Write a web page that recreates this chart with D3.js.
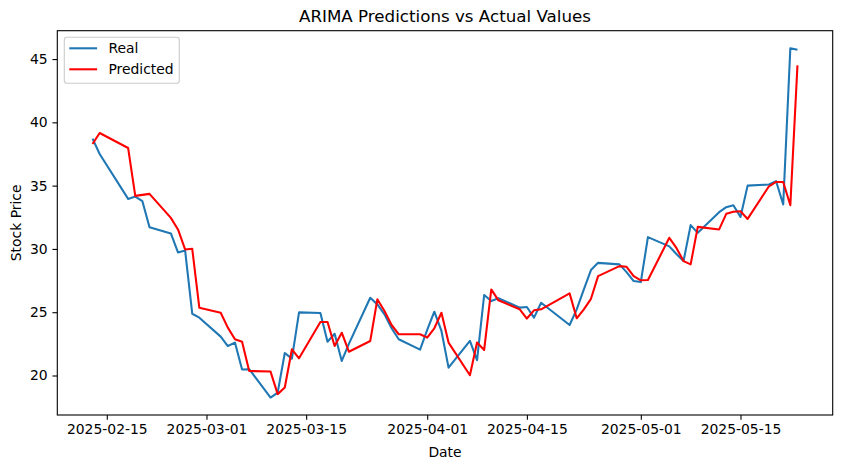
<!DOCTYPE html>
<html>
<head>
<meta charset="utf-8">
<script src="https://cdn.jsdelivr.net/npm/d3@7"></script>
<style>
  html, body { margin: 0; padding: 0; background: #fff; }
  svg { display: block; font-family: "DejaVu Sans", sans-serif; }
</style>
</head>
<body>
<svg id="chart" width="842" height="468"></svg>
<script>
// ---- data ----
const dates = [
  "2025-02-13","2025-02-14","2025-02-18","2025-02-19","2025-02-20","2025-02-21",
  "2025-02-24","2025-02-25","2025-02-26","2025-02-27","2025-02-28",
  "2025-03-03","2025-03-04","2025-03-05","2025-03-06","2025-03-07",
  "2025-03-10","2025-03-11","2025-03-12","2025-03-13","2025-03-14",
  "2025-03-17","2025-03-18","2025-03-19","2025-03-20","2025-03-21",
  "2025-03-24","2025-03-25","2025-03-26","2025-03-27","2025-03-28",
  "2025-03-31","2025-04-01","2025-04-02","2025-04-03","2025-04-04",
  "2025-04-07","2025-04-08","2025-04-09","2025-04-10","2025-04-11",
  "2025-04-14","2025-04-15","2025-04-16","2025-04-17",
  "2025-04-21","2025-04-22","2025-04-23","2025-04-24","2025-04-25",
  "2025-04-28","2025-04-29","2025-04-30","2025-05-01","2025-05-02",
  "2025-05-05","2025-05-06","2025-05-07","2025-05-08","2025-05-09",
  "2025-05-12","2025-05-13","2025-05-14","2025-05-15","2025-05-16",
  "2025-05-19","2025-05-20","2025-05-21","2025-05-22","2025-05-23"
];
const realValues = [
  38.71, 37.50, 33.95, 34.14, 33.77, 31.72,
  31.22, 29.72, 29.88, 24.88, 24.57,
  23.07, 22.33, 22.60, 20.47, 20.50,
  18.26, 18.65, 21.78, 21.33, 24.99,
  24.94, 22.67, 23.30, 21.15, 22.50,
  26.14, 25.62, 24.83, 23.73, 22.86,
  22.04, 23.60, 25.04, 23.52, 20.62,
  22.73, 21.21, 26.36, 25.88, 26.10,
  25.36, 25.41, 24.57, 25.75,
  23.99, 25.23, 26.80, 28.33, 28.90,
  28.78, 28.17, 27.46, 27.38, 30.93,
  30.20, 29.60, 29.04, 31.88, 31.27,
  32.90, 33.30, 33.45, 32.53, 35.00,
  35.09, 35.35, 33.51, 45.86, 45.73
];
const predictedValues = [
  38.29, 39.16, 37.97, 34.19, 34.27, 34.35,
  32.45, 31.54, 29.96, 30.01, 25.35,
  24.96, 23.78, 22.86, 22.67, 20.36,
  20.31, 18.53, 19.05, 22.07, 21.36,
  24.23, 24.23, 22.33, 23.38, 21.88,
  22.73, 26.02, 25.10, 23.99, 23.26,
  23.26, 22.99, 23.73, 24.96, 22.60,
  20.02, 22.60, 22.02, 26.80, 25.94,
  25.23, 24.50, 25.15, 25.23,
  26.49, 24.52, 25.23, 26.06, 27.85,
  28.64, 28.59, 27.85, 27.52, 27.54,
  30.88, 30.08, 29.04, 28.78, 31.74,
  31.54, 32.77, 32.93, 32.98, 32.37,
  34.95, 35.29, 35.29, 33.45, 44.50
];
const xTickLabels = ["2025-02-15","2025-03-01","2025-03-15","2025-04-01","2025-04-15","2025-05-01","2025-05-15"];
const yTickValues = [20, 25, 30, 35, 40, 45];
const seriesNames = ["Real", "Predicted"];
const seriesColors = ["#1f77b4", "#ff0000"];

// ---- layout ----
const W = 842, H = 468;
const plot = { left: 57.3, right: 832.7, top: 30.7, bottom: 415 };
const fs = 13.9;

const parse = d3.utcParse("%Y-%m-%d");
const fmt = d3.utcFormat("%Y-%m-%d");
const t = dates.map(parse);

const svg = d3.select("#chart");

// matplotlib-like 5% margins
const [tMin, tMax] = d3.extent(t);
const tPad = (tMax - tMin) * 0.05;
const x = d3.scaleUtc()
  .domain([new Date(+tMin - tPad), new Date(+tMax + tPad)])
  .range([plot.left, plot.right]);

const allVals = realValues.concat(predictedValues);
const [vMin, vMax] = d3.extent(allVals);
const vPad = (vMax - vMin) * 0.05;
const y = d3.scaleLinear()
  .domain([vMin - vPad, vMax + vPad])
  .range([plot.bottom, plot.top]);

// lines
const series = [realValues, predictedValues];
const line = d3.line()
  .x((d, i) => x(t[i]))
  .y(d => y(d));

const clip = svg.append("clipPath").attr("id", "clip")
  .append("rect")
  .attr("x", plot.left).attr("y", plot.top)
  .attr("width", plot.right - plot.left).attr("height", plot.bottom - plot.top);

const gLines = svg.append("g").attr("clip-path", "url(#clip)");
series.forEach((vals, k) => {
  gLines.append("path")
    .datum(vals)
    .attr("d", line)
    .attr("fill", "none")
    .attr("stroke", seriesColors[k])
    .attr("stroke-width", 2.08)
    .attr("stroke-linejoin", "round")
    .attr("stroke-linecap", "butt");
});

// axes
const xAxis = d3.axisBottom(x)
  .tickValues(xTickLabels.map(parse))
  .tickFormat(fmt)
  .tickSize(4.86)
  .tickPadding(4.0)
  .tickSizeOuter(0);
const gx = svg.append("g")
  .attr("transform", `translate(0,${plot.bottom})`)
  .call(xAxis);
gx.select(".domain").remove();
gx.selectAll(".tick line").attr("stroke", "#000").attr("stroke-width", 1.1);
gx.selectAll(".tick text")
  .attr("fill", "#000")
  .style("font-size", fs + "px")
  .style("font-family", "DejaVu Sans");

const yAxis = d3.axisLeft(y)
  .tickValues(yTickValues)
  .tickFormat(d3.format("d"))
  .tickSize(4.86)
  .tickPadding(4.86)
  .tickSizeOuter(0);
const gy = svg.append("g")
  .attr("transform", `translate(${plot.left},0)`)
  .call(yAxis);
gy.select(".domain").remove();
gy.selectAll(".tick line").attr("stroke", "#000").attr("stroke-width", 1.1);
gy.selectAll(".tick text")
  .attr("fill", "#000")
  .style("font-size", fs + "px")
  .style("font-family", "DejaVu Sans");

// frame
svg.append("rect")
  .attr("x", plot.left).attr("y", plot.top)
  .attr("width", plot.right - plot.left).attr("height", plot.bottom - plot.top)
  .attr("fill", "none").attr("stroke", "#000").attr("stroke-width", 1.1);

// title and labels
svg.append("text")
  .attr("x", (plot.left + plot.right) / 2).attr("y", 22.4)
  .attr("text-anchor", "middle")
  .style("font-size", "16.7px")
  .text("ARIMA Predictions vs Actual Values");

svg.append("text")
  .attr("x", (plot.left + plot.right) / 2).attr("y", 457)
  .attr("text-anchor", "middle")
  .style("font-size", fs + "px")
  .text("Date");

svg.append("text")
  .attr("transform", `translate(21,${(plot.top + plot.bottom) / 2}) rotate(-90)`)
  .attr("text-anchor", "middle")
  .style("font-size", fs + "px")
  .text("Stock Price");

// legend
const lg = svg.append("g");
lg.append("rect")
  .attr("x", 64.3).attr("y", 37.3)
  .attr("width", 115).attr("height", 46)
  .attr("rx", 2.8).attr("ry", 2.8)
  .attr("fill", "#fff").attr("fill-opacity", 0.8)
  .attr("stroke", "#cccccc").attr("stroke-width", 1.1);
seriesNames.forEach((name, k) => {
  const cy = 48.3 + k * 21;
  lg.append("line")
    .attr("x1", 69.3).attr("x2", 97.1)
    .attr("y1", cy).attr("y2", cy)
    .attr("stroke", seriesColors[k]).attr("stroke-width", 2.08);
  lg.append("text")
    .attr("x", 108.4).attr("y", cy + 5)
    .style("font-size", fs + "px")
    .text(name);
});
</script>
</body>
</html>
